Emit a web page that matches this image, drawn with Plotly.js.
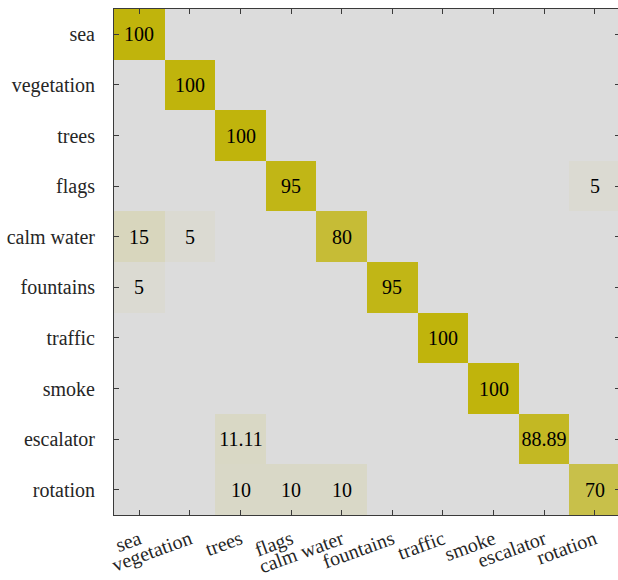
<!DOCTYPE html>
<html>
<head>
<meta charset="utf-8">
<script src="https://cdn.plot.ly/plotly-3.0.1.min.js"></script>
<style>
  html, body { margin: 0; padding: 0; overflow: hidden; background: #fff; font-family: 'Liberation Serif'; }
  #chart { width: 620px; height: 580px; }
  /* serif face for every label of the chart */
  #chart text { font-family: 'Liberation Serif', 'Times New Roman', serif !important; }
</style>
</head>
<body>
<div id="chart"></div>
<script>
// Class names (rows = true class, columns = predicted class)
const classes = ['sea', 'vegetation', 'trees', 'flags', 'calm water',
                 'fountains', 'traffic', 'smoke', 'escalator', 'rotation'];

// Confusion matrix, percent per row
const seaRow        = [100, 0, 0, 0, 0, 0, 0, 0, 0, 0];
const vegetationRow = [0, 100, 0, 0, 0, 0, 0, 0, 0, 0];
const treesRow      = [0, 0, 100, 0, 0, 0, 0, 0, 0, 0];
const flagsRow      = [0, 0, 0, 95, 0, 0, 0, 0, 0, 5];
const calmWaterRow  = [15, 5, 0, 0, 80, 0, 0, 0, 0, 0];
const fountainsRow  = [5, 0, 0, 0, 0, 95, 0, 0, 0, 0];
const trafficRow    = [0, 0, 0, 0, 0, 0, 100, 0, 0, 0];
const smokeRow      = [0, 0, 0, 0, 0, 0, 0, 100, 0, 0];
const escalatorRow  = [0, 0, 11.11, 0, 0, 0, 0, 0, 88.89, 0];
const rotationRow   = [0, 0, 10, 10, 10, 0, 0, 0, 0, 70];

const matrix = [seaRow, vegetationRow, treesRow, flagsRow, calmWaterRow,
                fountainsRow, trafficRow, smokeRow, escalatorRow, rotationRow];

// Only non-zero cells carry a label
const labels = matrix.map(row => row.map(v => (v === 0 ? '' : String(v))));

const axisColor = '#3a3a3a';

const trace = {
  type: 'heatmap',
  x: classes,
  y: classes,
  z: matrix,
  text: labels,
  texttemplate: '%{text}',
  textfont: { family: 'Liberation Serif', size: 20, color: '#000' },
  zmin: 0,
  zmax: 100,
  colorscale: [[0, 'rgb(220,220,220)'], [1, 'rgb(192,180,12)']],
  showscale: false,
  hoverinfo: 'skip'
};

const layout = {
  width: 620,
  height: 580,
  margin: { l: 114, r: 0, t: 9, b: 65 },
  paper_bgcolor: '#fff',
  plot_bgcolor: 'rgb(220,220,220)',
  font: { family: 'Liberation Serif', size: 20, color: '#262626' },
  xaxis: {
    type: 'category',
    categoryorder: 'array',
    categoryarray: classes,
    tickangle: -20,
    ticklabelstandoff: 4,
    ticks: 'inside',
    ticklen: 5,
    tickcolor: axisColor,
    showline: true,
    linecolor: axisColor,
    linewidth: 1,
    mirror: 'ticks',
    showgrid: false,
    zeroline: false
  },
  yaxis: {
    type: 'category',
    categoryorder: 'array',
    categoryarray: classes,
    autorange: 'reversed',
    ticklabelstandoff: 14,
    ticks: 'inside',
    ticklen: 5,
    tickcolor: axisColor,
    showline: true,
    linecolor: axisColor,
    linewidth: 1,
    mirror: 'ticks',
    showgrid: false,
    zeroline: false
  }
};

Plotly.newPlot('chart', [trace], layout, { displayModeBar: false });
</script>
</body>
</html>
